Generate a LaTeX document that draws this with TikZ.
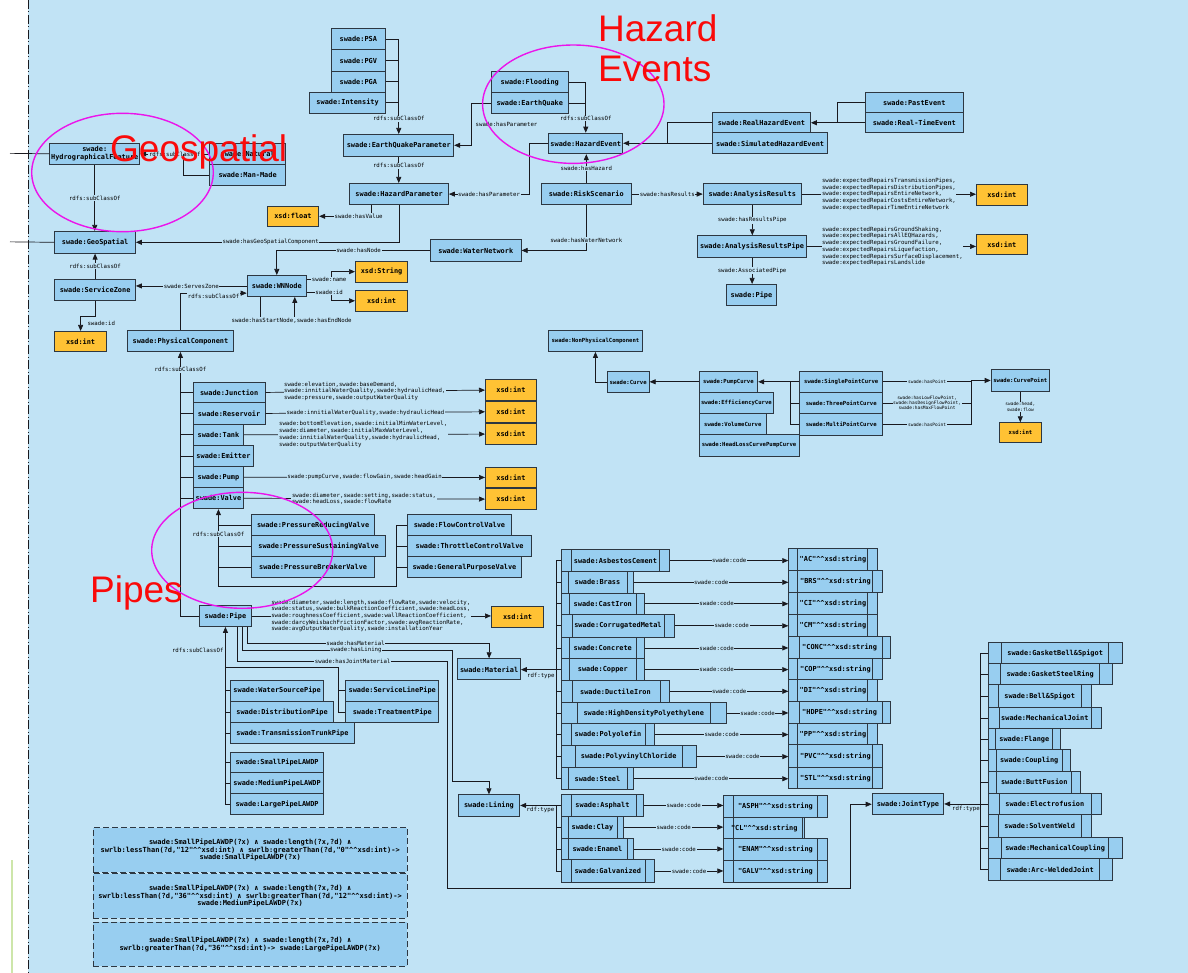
\documentclass[tikz,border=0pt]{standalone}
\usepackage{fontspec}
\setmonofont{DejaVu Sans Mono}
\setsansfont{Liberation Sans}
\usepackage{tikz}
\usetikzlibrary{arrows.meta, calc}
\definecolor{bgblue}{RGB}{193,227,245}
\definecolor{boxfill}{RGB}{152,206,240}
\definecolor{boxline}{RGB}{45,55,65}
\definecolor{xsdyellow}{RGB}{255,194,52}
\definecolor{linedark}{RGB}{25,25,30}
\definecolor{ringpink}{RGB}{235,20,235}
\definecolor{tagred}{RGB}{250,10,10}
\definecolor{edgegreen}{RGB}{205,230,170}
\newcommand{\dcaret}{\textasciicircum\textasciicircum}
\tikzset{
  wh/.style 2 args={minimum width=#1pt, minimum height=#2pt},
  cls/.style={rectangle, draw=boxline, fill=boxfill, line width=0.9pt,
    anchor=north west, inner sep=0pt, text=black,
    font=\ttfamily\bfseries\fontsize{6.9}{8}\selectfont},
  smallcls/.style={cls, font=\ttfamily\bfseries\fontsize{5.6}{6.5}\selectfont},
  datatype/.style={cls, fill=xsdyellow},
  smalltype/.style={smallcls, fill=xsdyellow},
  lanes/.style 2 args={path picture={
    \draw[boxline, line width=0.9pt] ([xshift=#1pt]path picture bounding box.north west) -- ([xshift=#1pt]path picture bounding box.south west);
    \draw[boxline, line width=0.9pt] ([xshift=-#2pt]path picture bounding box.north east) -- ([xshift=-#2pt]path picture bounding box.south east);}},
  rulebox/.style={rectangle, draw=boxline, fill=boxfill, line width=0.9pt,
    dash pattern=on 6pt off 3pt, anchor=north west, inner sep=0pt, align=center,
    text=black, font=\ttfamily\bfseries\fontsize{7}{7.8}\selectfont},
  elbl/.style={font=\ttfamily\fontsize{5.7}{6.7}\selectfont, fill=bgblue,
    inner sep=0.6pt, text=black},
  clbl/.style={elbl, font=\ttfamily\fontsize{4.5}{5.3}\selectfont, align=center},
  plist/.style={elbl, align=left},
  arrow/.style={-{Triangle[length=6pt, width=5pt]}, line width=0.7pt, color=linedark},
  line/.style={line width=0.7pt, color=linedark},
  ring/.style={draw=ringpink, line width=1.4pt},
  tag/.style={font=\sffamily\fontsize{37}{40}\selectfont, text=tagred, inner sep=0pt}
}
\begin{document}
\begin{tikzpicture}[x=1pt, y=-1pt]
  % Canvas
  \useasboundingbox (0,0) rectangle (1188,973);
  \fill[white] (0,0) rectangle (28,973);
  \fill[bgblue] (28,0) rectangle (1188,973);
  \draw[linedark, line width=0.8pt, dash pattern=on 9pt off 2.5pt on 1pt off 2.5pt] (28,0) -- (28,973);
  \draw[edgegreen, line width=1.2pt] (12,860) -- (12,973);

  % Earthquake parameters
  \node[cls, wh={54.3}{21.6}] (psa) at (330.7,27.7) {swade:PSA};
  \node[cls, wh={54.3}{21.4}] (pgv) at (330.7,49.3) {swade:PGV};
  \node[cls, wh={54.3}{21}] (pga) at (330.7,70.7) {swade:PGA};
  \node[cls, wh={75.7}{21}] (intensity) at (309.3,91.7) {swade:Intensity};
  \node[cls, wh={110}{21.7}] (eqparam) at (343.3,134) {swade:EarthQuakeParameter};
  \node[cls, wh={98.7}{21.3}] (hazparam) at (349.3,183) {swade:HazardParameter};
  \node[datatype, wh={51.6}{20.3}] (xfloat) at (266.7,205.7) {xsd:float};
  \draw[arrow] (psa.east) -| (eqparam.north) node[elbl, pos=0.92] {rdfs:subClassOf};
  \foreach \n in {pgv,pga,intensity}
    \draw[line] (\n.east) -- (\n.east -| eqparam.north);
  \draw[arrow] (eqparam.south) -- (eqparam.south |- hazparam.north) node[elbl, pos=0.35] {rdfs:subClassOf};
  \draw[arrow] ([xshift=-28pt]hazparam.south) |- (xfloat.east) node[elbl, pos=0.62] {swade:hasValue};

  % Hazard events
  \node[cls, wh={76.7}{21.3}] (flooding) at (491,71) {swade:Flooding};
  \node[cls, wh={76.7}{21}] (earthquake) at (491,92.3) {swade:EarthQuake};
  \node[cls, wh={74}{20.6}] (hazevent) at (548.3,132.7) {swade:HazardEvent};
  \node[cls, wh={90.3}{21.3}] (riskscen) at (540.7,183) {swade:RiskScenario};
  \node[cls, wh={98}{20.6}] (realhaz) at (712,111.7) {swade:RealHazardEvent};
  \node[cls, wh={115.3}{21}] (simhaz) at (712,132.3) {swade:SimulatedHazardEvent};
  \node[cls, wh={97.7}{20}] (pastev) at (865,92.3) {swade:PastEvent};
  \node[cls, wh={97.7}{20}] (realtime) at (865,112.3) {swade:Real-TimeEvent};
  \draw[arrow] (flooding.east) -| (hazevent.north) node[elbl, pos=0.86] {rdfs:subClassOf};
  \draw[line] (earthquake.east) -- (earthquake.east -| hazevent.north);
  \draw[arrow] (earthquake.west) -- ++(-19.3,0) |- (eqparam.east) node[elbl, pos=0.25, right, xshift=3pt] {swade:hasParameter};
  \draw[arrow] (hazevent.west) -- ++(-19,0) |- (hazparam.east) node[elbl, pos=0.75] {swade:hasParameter};
  \draw[arrow] (riskscen.north) -- (riskscen.north |- hazevent.south) node[elbl, midway] {swade:hasHazard};
  \draw[arrow] (simhaz.west) -- (simhaz.west -| hazevent.east);
  \draw[line] (realhaz.west) -- ++(-44.7,0) |- (simhaz.west);
  \draw[arrow] (realtime.west) -- (realtime.west -| realhaz.east);
  \draw[line] (pastev.west) -- ++(-27.7,0) |- (realtime.west);

  % Analysis results
  \node[cls, wh={98.3}{21}] (anres) at (702.7,183.3) {swade:AnalysisResults};
  \node[cls, wh={109.3}{21.4}] (anrespipe) at (697,235.3) {swade:AnalysisResultsPipe};
  \node[cls, wh={50}{21}] (respipe) at (726,284) {swade:Pipe};
  \node[datatype, wh={50.7}{20.7}] (xintar) at (976,184.3) {xsd:int};
  \node[datatype, wh={50.7}{20.6}] (xintarp) at (976,233.7) {xsd:int};
  \draw[arrow] (riskscen.east) -- (riskscen.east -| anres.west) node[elbl, midway] {swade:hasResults};
  \draw[arrow] (anres.east) -- (anres.east -| xintar.west) node[plist, midway]
    {swade:expectedRepairsTransmissionPipes,\\swade:expectedRepairsDistributionPipes,\\swade:expectedRepairsEntireNetwork,\\swade:expectedRepairCostsEntireNetwork,\\swade:expectedRepairTimeEntireNetwork};
  \draw[arrow] (anres.south) -- (anres.south |- anrespipe.north) node[elbl, midway] {swade:hasResultsPipe};
  \draw[arrow] (anrespipe.east) -- (anrespipe.east -| xintarp.west) node[plist, pos=0.505]
    {swade:expectedRepairsGroundShaking,\\swade:expectedRepairsAllEQHazards,\\swade:expectedRepairsGroundFailure,\\swade:expectedRepairsLiquefaction,\\swade:expectedRepairsSurfaceDisplacement,\\swade:expectedRepairsLandslide};
  \draw[arrow] (anrespipe.south) -- (anrespipe.south |- respipe.north) node[elbl, midway] {swade:AssociatedPipe};

  % Water network
  \node[cls, wh={90.7}{21.4}] (waternet) at (430,239.3) {swade:WaterNetwork};
  \node[cls, wh={59.3}{21}] (wnnode) at (246.7,275) {swade:WNNode};
  \node[datatype, wh={52.3}{21}] (xstring) at (355,260.7) {xsd:String};
  \node[datatype, wh={52.3}{20.7}] (xintwn) at (355,290) {xsd:int};
  \draw[arrow] (riskscen.south) |- (waternet.east) node[elbl, pos=0.385] {swade:hasWaterNetwork};
  \draw[arrow] (waternet.west) -| (wnnode.north) node[elbl, pos=0.233] {swade:hasNode};
  \draw[arrow] ([yshift=6.2pt]wnnode.east) -- ++(24.7,0) node[elbl, pos=0.9] {swade:name} |- (xstring.west);
  \draw[arrow] ([yshift=-6.2pt]wnnode.east) -- ++(24.7,0) node[elbl, pos=0.9] {swade:id} |- (xintwn.west);
  \draw[arrow] ([xshift=-16.35pt]wnnode.south) -- ++(0,20) -| ([xshift=18pt]wnnode.south)
    node[elbl, pos=0.25, below, xshift=14pt] {swade:hasStartNode,swade:hasEndNode};

  % Geospatial
  \node[cls, wh={90}{21.3}, align=center] (hydro) at (49.3,142.7) {swade:\\HydrographicalFeature};
  \node[cls, wh={75.7}{21.6}] (natural) at (209.3,142.7) {swade:Natural};
  \node[cls, wh={75.7}{20.7}] (manmade) at (209.3,164.3) {swade:Man-Made};
  \node[cls, wh={80.7}{21.7}] (geosp) at (54.3,231) {swade:GeoSpatial};
  \node[cls, wh={80.7}{21}] (servzone) at (54.3,279) {swade:ServiceZone};
  \node[datatype, wh={51.7}{20}] (xintsz) at (54.3,331) {xsd:int};
  \coordinate (leftin1) at (10,153.35);
  \coordinate (leftin2) at (10,241.85);
  \draw[line] (leftin1) -- (hydro.west);
  \draw[line] (leftin2) -- (geosp.west);
  \draw[arrow] (natural.west) -- (natural.west -| hydro.east) node[elbl, midway] {rdfs:subClassOf};
  \draw[line] (manmade.west) -| ([xshift=-26pt]natural.west);
  \draw[arrow] (hydro.south) -- (hydro.south |- geosp.north) node[elbl, midway] {rdfs:subClassOf};
  \draw[arrow] (hazparam.south) |- (geosp.east) node[elbl, pos=0.744] {swade:hasGeoSpatialComponent};
  \draw[arrow] (servzone.north) -- (geosp.south) node[elbl, midway] {rdfs:subClassOf};
  \draw[arrow] (wnnode.west) -- (wnnode.west -| servzone.east) node[elbl, midway] {swade:ServesZone};
  \draw[arrow] (servzone.south) -- ++(0,15) -| (xintsz.north) node[elbl, pos=0.75, right, xshift=6pt] {swade:id};

  % Physical components
  \node[cls, wh={106.6}{21}] (physcomp) at (126.7,330) {swade:PhysicalComponent};
  \node[cls, wh={72}{20.6}] (junction) at (192.7,381.7) {swade:Junction};
  \node[cls, wh={72}{21.4}] (reservoir) at (192.7,402.3) {swade:Reservoir};
  \node[cls, wh={50.6}{21.3}] (tank) at (192.7,423.7) {swade:Tank};
  \node[cls, wh={60.6}{21.3}] (emitter) at (192.7,445) {swade:Emitter};
  \node[cls, wh={50.6}{21}] (pump) at (192.7,466.3) {swade:Pump};
  \node[cls, wh={50.6}{21}] (valve) at (192.7,487.3) {swade:Valve};
  \node[datatype, wh={51}{20.7}] (xintj) at (485,379.3) {xsd:int};
  \node[datatype, wh={51}{20.7}] (xintr) at (485,401) {xsd:int};
  \node[datatype, wh={51}{20.7}] (xintt) at (485,423.3) {xsd:int};
  \node[datatype, wh={51}{20.6}] (xintp) at (485,466.7) {xsd:int};
  \node[datatype, wh={51}{20.7}] (xintv) at (485,488.3) {xsd:int};
  \draw[arrow] (physcomp.north) |- ([yshift=-7.2pt]wnnode.west) node[elbl, pos=0.75, below] {rdfs:subClassOf};
  \foreach \n in {junction,reservoir,tank,emitter,pump,valve}
    \draw[line] (\n.west) -- (\n.west -| physcomp.south);
  \draw[arrow] (junction.east) -- (xintj.west) node[plist, pos=0.452]
    {swade:elevation,swade:baseDemand,\\swade:innitialWaterQuality,swade:hydraulicHead,\\swade:pressure,swade:outputWaterQuality};
  \draw[arrow] (reservoir.east) -- (xintr.west) node[plist, pos=0.455] {swade:innitialWaterQuality,swade:hydraulicHead};
  \draw[arrow] (tank.east) -- (xintt.west) node[plist, pos=0.494]
    {swade:bottomElevation,swade:initialMinWaterLevel,\\swade:diameter,swade:initialMaxWaterLevel,\\swade:innitialWaterQuality,swade:hydraulicHead,\\swade:outputWaterQuality};
  \draw[arrow] (pump.east) -- (xintp.west) node[plist, pos=0.5] {swade:pumpCurve,swade:flowGain,swade:headGain};
  \draw[arrow] (valve.east) -- (xintv.west) node[plist, pos=0.498]
    {swade:diameter,swade:setting,swade:status,\\swade:headLoss,swade:flowRate};

  % Valves
  \node[cls, wh={123.3}{21}] (prv) at (251,514) {swade:PressureReducingValve};
  \node[cls, wh={134.3}{21}] (psv) at (251,535) {swade:PressureSustainingValve};
  \node[cls, wh={123.3}{21.3}] (pbv) at (251,556) {swade:PressureBreakerValve};
  \node[cls, wh={103.4}{21}] (fcv) at (407.3,514) {swade:FlowControlValve};
  \node[cls, wh={123.7}{21}] (tcv) at (407.3,535) {swade:ThrottleControlValve};
  \node[cls, wh={113.4}{21.3}] (gpv) at (407.3,556) {swade:GeneralPurposeValve};
  \draw[arrow] (fcv.west) -- ++(-11.3,0) -- ++(0,61.5) -| (valve.south) node[elbl, pos=0.84] {rdfs:subClassOf};
  \foreach \n in {prv,psv,pbv}
    \draw[line] (\n.west) -- (\n.west -| valve.south);
  \foreach \n in {tcv,gpv}
    \draw[line] (\n.west) -- ++(-11.3,0);

  % Pipes
  \node[cls, wh={51.4}{21}] (pipe) at (199.3,605) {swade:Pipe};
  \node[datatype, wh={52.3}{21}] (xintpipe) at (491,605.7) {xsd:int};
  \node[cls, wh={93.3}{20.7}] (wsp) at (230,680) {swade:WaterSourcePipe};
  \node[cls, wh={103.3}{21.6}] (distp) at (230,700.7) {swade:DistributionPipe};
  \node[cls, wh={124}{21}] (ttp) at (230,722.3) {swade:TransmissionTrunkPipe};
  \node[cls, wh={93}{20.7}] (slp) at (345.3,680) {swade:ServiceLinePipe};
  \node[cls, wh={93}{21.6}] (trp) at (345.3,700.7) {swade:TreatmentPipe};
  \node[cls, wh={93.3}{20.6}] (spl) at (230,751.7) {swade:SmallPipeLAWDP};
  \node[cls, wh={93.3}{21}] (mpl) at (230,772.3) {swade:MediumPipeLAWDP};
  \node[cls, wh={93.3}{20.7}] (lpl) at (230,793.3) {swade:LargePipeLAWDP};
  \draw[arrow] (pipe.west) -| (physcomp.south) node[elbl, pos=0.966] {rdfs:subClassOf};
  \draw[arrow] (pipe.east) -- (pipe.east -| xintpipe.west) node[plist, pos=0.498]
    {swade:diameter,swade:length,swade:flowRate,swade:velocity,\\swade:status,swade:bulkReactionCoefficient,swade:headLoss,\\swade:roughnessCoefficient,swade:wallReactionCoefficient,\\swade:darcyWeisbachFrictionFactor,swade:avgReactionRate,\\swade:avgOutputWaterQuality,swade:installationYear};
  \draw[arrow] (lpl.west) -| (pipe.south) node[elbl, pos=0.934, left, xshift=-1pt] {rdfs:subClassOf};
  \foreach \n in {wsp,distp,ttp,spl,mpl}
    \draw[line] (\n.west) -- (\n.west -| pipe.south);
  \draw[line] (trp.west) -- ++(-7,0) |- ([yshift=-40.7pt]pipe.south);
  \draw[line] (slp.west) -- ++(-7,0);

  % Materials
  \node[cls, wh={62.7}{21}] (material) at (457.3,658.3) {swade:Material};
  \node[cls, lanes={10.3}{10.3}, wh={108.6}{21.7}] (asbestos) at (560.7,549.3) {swade:AsbestosCement};
  \node[cls, lanes={7.6}{6.6}, wh={72.6}{21.7}] (brass) at (560.7,571) {swade:Brass};
  \node[cls, lanes={8.6}{8}, wh={83.3}{21.3}] (castiron) at (560.7,592.7) {swade:CastIron};
  \node[cls, lanes={11}{10.3}, wh={113.6}{22.7}] (corrugated) at (560.7,614) {swade:CorrugatedMetal};
  \node[cls, lanes={8.6}{8}, wh={83.3}{21.6}] (concrete) at (560.7,636.7) {swade:Concrete};
  \node[cls, lanes={8.6}{8}, wh={83.3}{21.7}] (copper) at (560.7,658.3) {swade:Copper};
  \node[cls, lanes={11.6}{9.3}, wh={108.6}{21.7}] (ductile) at (560.7,680) {swade:DuctileIron};
  \node[cls, lanes={16.6}{16}, wh={165.3}{21.6}] (hdpe) at (560.7,701.7) {swade:HighDensityPolyethylene};
  \node[cls, lanes={10}{9.3}, wh={93.6}{21.7}] (polyolefin) at (560.7,723.3) {swade:Polyolefin};
  \node[cls, lanes={14.3}{13.4}, wh={135}{22.3}] (pvc) at (560.7,745) {swade:PolyvinylChloride};
  \node[cls, lanes={7.6}{6.6}, wh={72.6}{22}] (steel) at (560.7,767.3) {swade:Steel};
  \node[cls, lanes={8.4}{9.4}, wh={88.4}{21.7}] (cac) at (788.3,548.3) {"AC"\dcaret xsd:string};
  \node[cls, lanes={8.4}{9.4}, wh={93.4}{22.3}] (cbrs) at (788.3,570) {"BRS"\dcaret xsd:string};
  \node[cls, lanes={8.4}{9.4}, wh={88.4}{21.7}] (cci) at (788.3,592.3) {"CI"\dcaret xsd:string};
  \node[cls, lanes={8.4}{9.4}, wh={88.4}{22}] (ccm) at (788.3,614) {"CM"\dcaret xsd:string};
  \node[cls, lanes={11}{8.3}, wh={101.7}{21.7}] (cconc) at (788.3,636) {"CONC"\dcaret xsd:string};
  \node[cls, lanes={8.4}{9.4}, wh={93.4}{21.6}] (ccop) at (788.3,657.7) {"COP"\dcaret xsd:string};
  \node[cls, lanes={8.4}{9.4}, wh={88.4}{21.7}] (cdi) at (788.3,679.3) {"DI"\dcaret xsd:string};
  \node[cls, lanes={11}{8.3}, wh={101.7}{21.7}] (chdpe) at (788.3,701) {"HDPE"\dcaret xsd:string};
  \node[cls, lanes={8.4}{9.4}, wh={88.4}{21.6}] (cpp) at (788.3,722.7) {"PP"\dcaret xsd:string};
  \node[cls, lanes={8.4}{9.4}, wh={93.4}{22.4}] (cpvc) at (788.3,744.3) {"PVC"\dcaret xsd:string};
  \node[cls, lanes={8.4}{9.4}, wh={93.4}{21.6}] (cstl) at (788.3,766.7) {"STL"\dcaret xsd:string};
  \draw[arrow] ([xshift=21.7pt]pipe.south) -- ++(0,16.7) -| (material.north) node[elbl, pos=0.224] {swade:hasMaterial};
  \draw[arrow] (copper.west) -- (copper.west -| material.east) node[elbl, midway, below, yshift=-3pt] {rdf:type};
  \draw[line] (asbestos.west) -- ++(-4.7,0) |- (steel.west);
  \foreach \m in {brass,castiron,corrugated,concrete,ductile,hdpe,polyolefin,pvc}
    \draw[line] (\m.west) -- ++(-4.7,0);
  \foreach \m/\c in {asbestos/cac,brass/cbrs,castiron/cci,corrugated/ccm,concrete/cconc,copper/ccop,ductile/cdi,hdpe/chdpe,polyolefin/cpp,pvc/cpvc,steel/cstl}
    \draw[arrow] (\m.east) -- (\m.east -| \c.west) node[elbl, midway] {swade:code};

  % Linings
  \node[cls, wh={61.6}{21.7}] (lining) at (457.7,794.3) {swade:Lining};
  \node[cls, lanes={10}{7.3}, wh={82.6}{21.4}] (asphalt) at (560.7,794.3) {swade:Asphalt};
  \node[cls, lanes={7}{6.6}, wh={62.6}{22}] (clay) at (560.7,815.7) {swade:Clay};
  \node[cls, lanes={7.6}{6.6}, wh={72.6}{21.6}] (enamel) at (560.7,837.7) {swade:Enamel};
  \node[cls, lanes={10}{9.3}, wh={93.3}{22.4}] (galv) at (560.7,859.3) {swade:Galvanized};
  \node[cls, lanes={10}{10}, wh={103.4}{21.7}] (casph) at (723.3,795) {"ASPH"\dcaret xsd:string};
  \node[cls, lanes={10}{2}, wh={81}{21.6}] (ccl) at (723.3,816.7) {"CL"\dcaret xsd:string};
  \node[cls, lanes={10}{10}, wh={103.4}{21.7}] (cenam) at (723.3,838.3) {"ENAM"\dcaret xsd:string};
  \node[cls, lanes={10}{10}, wh={103.4}{21.7}] (cgalv) at (723.3,860) {"GALV"\dcaret xsd:string};
  \draw[arrow] ([xshift=16.7pt]pipe.south) -- ++(0,23.3) -- ++(210.6,0) node[elbl, pos=0.54] {swade:hasLining}
    -- ++(0,130.7) -| (lining.north);
  \draw[arrow] (asphalt.west) -- (asphalt.west -| lining.east) node[elbl, midway, below, yshift=-1pt] {rdf:type};
  \draw[line] (asphalt.west) -- ++(-4.7,0) |- (galv.west);
  \foreach \m in {clay,enamel}
    \draw[line] (\m.west) -- ++(-4.7,0);
  \foreach \m/\c in {asphalt/casph,clay/ccl,enamel/cenam,galv/cgalv}
    \draw[arrow] (\m.east) -- (\m.east -| \c.west) node[elbl, midway] {swade:code};

  % Joints
  \node[cls, wh={71.6}{21}] (jointtype) at (871.7,793.3) {swade:JointType};
  \node[cls, lanes={13.3}{13.4}, wh={134}{21.6}] (gbs) at (987.7,641.7) {swade:GasketBell\&Spigot};
  \node[cls, lanes={12.3}{12.4}, wh={124}{21}] (gsr) at (987.7,663.3) {swade:GasketSteelRing};
  \node[cls, lanes={10.6}{10}, wh={103}{22.4}] (bes) at (987.7,684.3) {swade:Bell\&Spigot};
  \node[cls, lanes={11.6}{10.3}, wh={113.3}{21.6}] (mechjoint) at (987.7,706.7) {swade:MechanicalJoint};
  \node[cls, lanes={7.3}{8.3}, wh={72.3}{20.7}] (flange) at (987.7,728.3) {swade:Flange};
  \node[cls, lanes={8.3}{8.3}, wh={82.3}{21.7}] (coupling) at (987.7,749) {swade:Coupling};
  \node[cls, lanes={8.6}{9}, wh={92.3}{22}] (butt) at (987.7,770.7) {swade:ButtFusion};
  \node[cls, lanes={11.6}{10.3}, wh={113.3}{21.6}] (electro) at (987.7,792.7) {swade:Electrofusion};
  \node[cls, lanes={10.6}{10}, wh={103}{22.4}] (solvent) at (987.7,814.3) {swade:SolventWeld};
  \node[cls, lanes={13.3}{13.4}, wh={134}{21.6}] (mechcoup) at (987.7,836.7) {swade:MechanicalCoupling};
  \node[cls, lanes={12.3}{12.4}, wh={124}{21.7}] (arcweld) at (987.7,858.3) {swade:Arc-WeldedJoint};
  \draw[arrow] ([xshift=11.7pt]pipe.south) -- ++(0,34) -- ++(210,0) node[elbl, pos=0.55] {swade:hasJointMaterial}
    -- ++(0,227.3) -- ++(403.3,0) |- (jointtype.west);
  \draw[arrow] (electro.west) -- (electro.west -| jointtype.east) node[elbl, midway, below, yshift=-1pt] {rdf:type};
  \draw[line] (gbs.west) -- ++(-7.7,0) |- (arcweld.west);
  \foreach \m in {gsr,bes,mechjoint,flange,coupling,butt,solvent,mechcoup}
    \draw[line] (\m.west) -- ++(-7.7,0);

  % Curves
  \node[smallcls, wh={93.4}{21}] (npc) at (548.3,330) {swade:NonPhysicalComponent};
  \node[smallcls, wh={42}{21.3}] (curve) at (606.7,371) {swade:Curve};
  \node[smallcls, wh={58.6}{20.7}] (pumpc) at (698.7,371) {swade:PumpCurve};
  \node[smallcls, wh={74.6}{21.6}] (effc) at (698.7,391.7) {swade:EfficiencyCurve};
  \node[smallcls, wh={67.3}{21}] (volc) at (698.7,413.3) {swade:VolumeCurve};
  \node[smallcls, wh={100}{21.4}] (hlc) at (698.7,434.3) {swade:HeadLossCurvePumpCurve};
  \node[smallcls, wh={83}{20.7}] (spc) at (799.3,371) {swade:SinglePointCurve};
  \node[smallcls, wh={83}{21.6}] (tpc) at (799.3,391.7) {swade:ThreePointCurve};
  \node[smallcls, wh={83}{21.7}] (mpc) at (799.3,413.3) {swade:MultiPointCurve};
  \node[smallcls, wh={58.3}{21.4}] (cpoint) at (990.7,369.3) {swade:CurvePoint};
  \node[smalltype, wh={41.4}{20}] (xintcp) at (999.3,422.3) {xsd:int};
  \draw[arrow] (curve.west) -| (npc.south);
  \draw[arrow] (pumpc.west) -- (pumpc.west -| curve.east);
  \draw[arrow] (spc.west) -- (spc.west -| pumpc.east);
  \draw[line] (mpc.west) -- ++(-9.3,0) |- (spc.west);
  \draw[line] (tpc.west) -- ++(-9.3,0);
  \draw[line] (spc.east) -- ++(87.7,0) node[clbl, midway] {swade:hasPoint};
  \draw[line] (tpc.east) -- ++(87.7,0) node[clbl, midway] {swade:hasLowFlowPoint,\\swade:hasDesignFlowPoint,\\swade:hasMaxFlowPoint};
  \draw[arrow] (mpc.east) -- ++(87.7,0) node[clbl, midway] {swade:hasPoint} |- (cpoint.west);
  \draw[arrow] (cpoint.south) -- (cpoint.south |- xintcp.north) node[clbl, midway] {swade:head,\\swade:flow};

  % Rules
  \node[rulebox, wh={314}{44.4}] (rule1) at (92.7,827.3)
    {swade:SmallPipeLAWDP(?x) ∧ swade:length(?x,?d) ∧\\swrlb:lessThan(?d,"12"\dcaret xsd:int) ∧ swrlb:greaterThan(?d,"0"\dcaret xsd:int)->\\swade:SmallPipeLAWDP(?x)};
  \node[rulebox, wh={314}{44.4}] (rule2) at (92.7,873.3)
    {swade:SmallPipeLAWDP(?x) ∧ swade:length(?x,?d) ∧\\swrlb:lessThan(?d,"36"\dcaret xsd:int) ∧ swrlb:greaterThan(?d,"12"\dcaret xsd:int)->\\swade:MediumPipeLAWDP(?x)};
  \node[rulebox, wh={314}{44.3}] (rule3) at (92.7,921.7)
    {swade:SmallPipeLAWDP(?x) ∧ swade:length(?x,?d) ∧\\swrlb:greaterThan(?d,"36"\dcaret xsd:int)-> swade:LargePipeLAWDP(?x)};

  % Highlights
  \draw[ring] (122.5,172.5) ellipse [x radius=90.8pt, y radius=59.2pt];
  \draw[ring] (573.3,104.2) ellipse [x radius=90.7pt, y radius=59.2pt];
  \draw[ring] (242.2,550.3) ellipse [x radius=90.5pt, y radius=58pt];
  \node[tag, anchor=base west] (geotag) at (110,162) {Geospatial};
  \node[tag, anchor=north west, align=left] (haztag) at (598,14) {Hazard\\Events};
  \node[tag, anchor=base west] (pipetag) at (90,602) {Pipes};
\end{tikzpicture}
\end{document}
